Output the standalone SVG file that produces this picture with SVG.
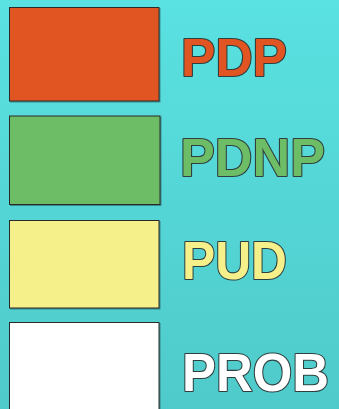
<svg xmlns="http://www.w3.org/2000/svg" width="339" height="409" viewBox="0 0 339 409">
<defs>
<linearGradient id="bg" x1="0" y1="0" x2="0" y2="1">
<stop offset="0" stop-color="#5ae1e1"/>
<stop offset="1" stop-color="#4fcaca"/>
</linearGradient>
<filter id="sh" x="-5%" y="-5%" width="115%" height="115%">
<feDropShadow dx="1" dy="1" stdDeviation="0.5" flood-color="#000" flood-opacity="0.35"/>
</filter>
</defs>
<style>
.box{stroke:#2a2a2a;stroke-width:1;filter:url(#sh)}
.lbl{font-family:"Liberation Sans",Arial,sans-serif;font-weight:bold;font-size:53px;stroke:#2f3f3f;stroke-width:2.2;paint-order:stroke;stroke-linejoin:round}
</style>
<rect width="339" height="409" fill="url(#bg)"/>
<g id="pdp">
<rect class="box" x="9.5" y="7.5" width="149.5" height="93.5" fill="#e05522"/>
<text class="lbl" x="181" y="76" fill="#e05522" stroke="#1c1c1c" stroke-width="4.5" textLength="106" lengthAdjust="spacingAndGlyphs">PDP</text>
</g>
<g id="pdnp">
<rect class="box" x="9.5" y="116" width="150.5" height="88.5" fill="#6dbd66"/>
<text class="lbl" x="180" y="176" fill="#6dbd66" textLength="145" lengthAdjust="spacingAndGlyphs">PDNP</text>
</g>
<g id="pud">
<rect class="box" x="9.5" y="220.5" width="149.5" height="87.5" fill="#f5f08a"/>
<text class="lbl" x="182" y="278.5" fill="#f5f08a" textLength="105" lengthAdjust="spacingAndGlyphs">PUD</text>
</g>
<g id="prob">
<rect class="box" x="9.5" y="322.5" width="149.5" height="100" fill="#ffffff"/>
<text class="lbl" x="182" y="390.5" fill="#ffffff" textLength="147" lengthAdjust="spacingAndGlyphs">PROB</text>
</g>
</svg>
